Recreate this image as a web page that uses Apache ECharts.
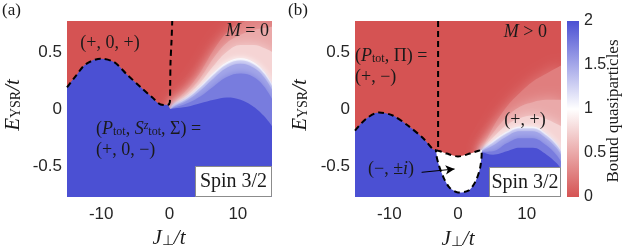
<!DOCTYPE html>
<html><head><meta charset="utf-8">
<script src="https://cdn.jsdelivr.net/npm/echarts@6/dist/echarts.min.js"></script>
<style>html,body{margin:0;padding:0;background:#fff}#c{width:623px;height:252px}</style>
</head><body><div id="c"></div>
<script>
// ---------- data ----------
const xRange = [-15, 15];
const yRange = [-0.77, 0.77];
const xTicks = [-10, 0, 10];
const yTicks = [-0.5, 0, 0.5];
const cbRange = [0, 2];

// Panel (a): dashed phase boundary (left hump + notch) and vertical dashed branch
const aBoundary = [[-15,0.19],[-13.7,0.29],[-12.3,0.39],[-10.1,0.44],[-8.1,0.41],[-6.2,0.30],[-4.2,0.19],[-2.5,0.10],[-1.3,0.04],[-0.3,0.035]];
const aVertical = [[-0.3,0.035],[0.05,0.06],[0.1,0.2],[0.15,0.41],[0.3,0.6],[0.4,0.77]];
// Panel (a): contours of the bound-quasiparticle number on the right side
const aC025 = [[0.2,0.0],[0.5,0.045],[2.6,0.17],[4.5,0.32],[6.5,0.52],[8.4,0.67],[10.4,0.75],[12.3,0.8],[15,0.9]];
const aC050 = [[0.2,0.0],[0.5,0.04],[2.6,0.14],[4.5,0.27],[6.5,0.45],[8.4,0.58],[10.4,0.65],[12.3,0.69],[14,0.71],[15,0.72]];
const aC075 = [[0.2,0.0],[0.5,0.035],[2.6,0.12],[4.5,0.23],[6.5,0.38],[8.4,0.5],[10.4,0.56],[12.3,0.56],[14,0.53],[15,0.5]];
const aC100 = [[0.2,0.0],[0.6,0.027],[2.6,0.1],[4.5,0.2],[6.5,0.32],[8.4,0.41],[10.4,0.445],[12.3,0.41],[13.8,0.33],[15,0.22]];
const aC125 = [[0.2,0.0],[0.6,0.022],[2.6,0.09],[4.5,0.185],[6.5,0.3],[8.4,0.39],[10.4,0.425],[12.3,0.39],[13.8,0.31],[15,0.2]];
const aC150 = [[0.2,0.0],[0.6,0.018],[2.6,0.075],[4.5,0.16],[6.5,0.27],[8.4,0.36],[10.4,0.395],[12.3,0.36],[13.8,0.28],[15,0.17]];
const aC175 = [[0.2,0.0],[0.6,0.01],[2.6,0.05],[4.5,0.11],[6.5,0.2],[8.4,0.28],[10.4,0.31],[12.3,0.28],[13.8,0.2],[15,0.09]];
const aC200 = [[0.2,0.0],[0.6,0.005],[2.6,0.02],[4.5,0.05],[6.5,0.08],[8.4,0.1],[10.4,0.08],[12.3,0.02],[13.8,-0.06],[15,-0.15]];

// Panel (b)
const bBoundary = [[-15,-0.19],[-13.4,-0.086],[-11.5,-0.03],[-9.5,-0.057],[-7.3,-0.145],[-5.0,-0.26],[-3.6,-0.355],[-3.2,-0.36]];
const bVertical = [[-2.9,0.77],[-2.9,-0.37]];
const bUnderWhite = [[-2.6,-0.46],[0,-0.5],[2.8,-0.46]];
const bWhiteTop = [[-3.2,-0.36],[-2.6,-0.37],[-1.65,-0.39],[0,-0.415],[1.75,-0.39],[3.0,-0.365],[3.45,-0.36]];
const bWhiteBottom = [[3.45,-0.38],[3.2,-0.52],[2.5,-0.64],[1.5,-0.715],[0,-0.73],[-1.2,-0.69],[-2.1,-0.6],[-2.85,-0.48],[-3.2,-0.37]];
const bC025 = [[3.45,-0.36],[5.1,-0.16],[7.1,0.02],[9,0.14],[10.9,0.24],[12.9,0.31],[15,0.38]];
const bC050 = [[3.45,-0.36],[5.1,-0.21],[7.1,-0.07],[9,0.02],[10.9,0.06],[12.9,0.08],[15,0.08]];
const bC075 = [[3.45,-0.36],[5.1,-0.25],[7.1,-0.14],[9,-0.08],[10.9,-0.06],[12.9,-0.09],[14.3,-0.13],[15,-0.15]];
const bC100 = [[3.45,-0.36],[5.1,-0.28],[7.1,-0.2],[9,-0.155],[10.9,-0.155],[12.9,-0.22],[14.3,-0.3],[15,-0.36]];
const bC125 = [[3.45,-0.365],[5.1,-0.295],[7.1,-0.215],[9,-0.17],[10.9,-0.17],[12.9,-0.235],[14.3,-0.315],[15,-0.375]];
const bC150 = [[3.45,-0.37],[5.1,-0.32],[7.1,-0.24],[9,-0.195],[10.9,-0.195],[12.9,-0.26],[14.3,-0.34],[15,-0.4]];
const bC175 = [[3.45,-0.375],[5.1,-0.37],[7.1,-0.3],[9,-0.255],[10.9,-0.255],[12.9,-0.32],[14.3,-0.4],[15,-0.46]];
const bC200 = [[3.45,-0.38],[5.1,-0.4],[7.1,-0.37],[9,-0.34],[10.9,-0.34],[12.9,-0.4],[14.3,-0.47],[15,-0.52]];
const bArrow = [[-5.3,-0.554],[-0.5,-0.525]];

const contourLevels = [0.25, 0.5, 0.75, 1.0, 1.25, 1.5, 1.75];
const aContours = [aC025, aC050, aC075, aC100, aC125, aC150, aC175];
const bContours = [bC025, bC050, bC075, bC100, bC125, bC150, bC175];

// ---------- style ----------
const RED = [213, 83, 83], WHITE = [255, 255, 255], BLUE = [75, 80, 211];
function mix(a, b, t) { return 'rgb(' + a.map((v, i) => Math.round(v + (b[i] - v) * t)).join(',') + ')'; }
function cmap(v) { return v <= 1 ? mix(RED, WHITE, v) : mix(WHITE, BLUE, v - 1); }
const levelBlur = [14, 14, 12, 6, 3, 4, 8];
const SERIF = 'Liberation Serif';
const SANS = 'Liberation Sans';
const TXT = '#1a1a1a';

const grids = [
  { left: 67, top: 21, width: 205, height: 176, show: true, backgroundColor: cmap(0), borderWidth: 0 },
  { left: 355, top: 21, width: 206, height: 176, show: true, backgroundColor: cmap(0), borderWidth: 0 },
  { left: 567, top: 21, width: 12, height: 176, show: false }
];
function xAx(g) {
  return { gridIndex: g, type: 'value', min: xRange[0], max: xRange[1],
    axisLine: { show: false }, axisTick: { show: false }, splitLine: { show: false },
    axisLabel: { customValues: xTicks, fontFamily: SANS, fontSize: 17, color: '#262626', margin: 9 } };
}
function yAx(g) {
  return { gridIndex: g, type: 'value', min: yRange[0], max: yRange[1],
    axisLine: { show: false }, axisTick: { show: false }, splitLine: { show: false },
    axisLabel: { customValues: yTicks, fontFamily: SANS, fontSize: 17, color: '#262626', margin: 5,
      formatter: v => String(v) } };
}
function area(g, data, color, blur) {
  return { type: 'line', xAxisIndex: g, yAxisIndex: g, data, smooth: 0.4,
    showSymbol: false, silent: true, lineStyle: { width: 0 },
    areaStyle: { color, opacity: 1, origin: 'start', shadowBlur: blur || 0, shadowColor: color } };
}
function dashed(g, data, smooth) {
  return { type: 'line', xAxisIndex: g, yAxisIndex: g, data, smooth: smooth, showSymbol: false, silent: true,
    lineStyle: { color: '#000', width: 2, type: [6, 4] }, z: 5 };
}

const series = [];
// panel a
aContours.forEach((c, i) => series.push(area(0, c, cmap(contourLevels[i]), levelBlur[i])));
series.push(area(0, aBoundary.concat([[0.2, 0.0]]).concat(aC200.slice(1)), cmap(2), 0));
series.push(dashed(0, aBoundary.concat(aVertical.slice(1)), 0.3));
// panel b
bContours.forEach((c, i) => series.push(area(1, c, cmap(contourLevels[i]), levelBlur[i])));
series.push(area(1, bBoundary.concat(bUnderWhite).concat(bC200), cmap(2), 0));
const whitePoly = bWhiteTop.concat(bWhiteBottom);
series.push({ type: 'custom', xAxisIndex: 1, yAxisIndex: 1, silent: true, z: 4,
  data: [0],
  renderItem: (params, api) => ({ type: 'polygon',
    shape: { points: whitePoly.map(p => api.coord(p)), smooth: 0.3 },
    style: { fill: '#fff', stroke: null } }) });
series.push(dashed(1, bBoundary, 0.3));
series.push(dashed(1, bVertical, false));
series.push(dashed(1, whitePoly.concat([whitePoly[0]]), 0.3));
series.push({ type: 'line', xAxisIndex: 1, yAxisIndex: 1, data: [], silent: true, z: 6,
  markLine: { silent: true, symbol: ['none', 'arrow'], symbolSize: [7, 9], label: { show: false },
    lineStyle: { color: '#000', width: 1, type: 'solid' }, animation: false,
    data: [[{ coord: bArrow[0] }, { coord: bArrow[1] }]] } });
// colorbar
series.push({ type: 'bar', xAxisIndex: 2, yAxisIndex: 2, data: [cbRange[1]], barWidth: '100%', silent: true,
  itemStyle: { color: { type: 'linear', x: 0, y: 0, x2: 0, y2: 1,
    colorStops: [{ offset: 0, color: cmap(2) }, { offset: 0.5, color: cmap(1) }, { offset: 1, color: cmap(0) }] } } });

const rich = {
  r: { fontFamily: SERIF, fontSize: 18, color: TXT },
  i: { fontFamily: SERIF, fontSize: 18, fontStyle: 'italic', color: TXT },
  s: { fontFamily: SERIF, fontSize: 12, color: TXT, verticalAlign: 'bottom', lineHeight: 9 },
  p: { fontFamily: SERIF, fontSize: 12, fontStyle: 'italic', color: TXT, verticalAlign: 'top', lineHeight: 9 },
  R: { fontFamily: SERIF, fontSize: 20, color: TXT },
  I: { fontFamily: SERIF, fontSize: 21, fontStyle: 'italic', color: TXT },
  S: { fontFamily: SERIF, fontSize: 14, color: TXT, verticalAlign: 'bottom', lineHeight: 10 },
  c: { fontFamily: SERIF, fontSize: 17, color: TXT }
};
function txt(x, y, text, align, extra) {
  return Object.assign({ type: 'text', x, y, z: 100, style: { text, rich, align: align || 'left', verticalAlign: 'middle', fill: TXT, fontFamily: SERIF, fontSize: 18 } }, extra || {});
}
const graphic = [
  txt(2, 11, '{c|(a)}'),
  txt(288, 11, '{c|(b)}'),
  txt(13, 105, '{I|E}{S|YSR}{I|/t}', 'center', { rotation: Math.PI / 2 }),
  txt(300, 105, '{I|E}{S|YSR}{I|/t}', 'center', { rotation: Math.PI / 2 }),
  txt(169, 238, '{I|J}{S|⊥}{I|/t}', 'center'),
  txt(458, 239, '{I|J}{S|⊥}{I|/t}', 'center'),
  txt(614, 111, '{c|Bound quasiparticles}', 'center', { rotation: Math.PI / 2 }),
  txt(110, 43, '{r|(+, 0, +)}', 'center'),
  txt(269, 31, '{i|M}{r| = 0}', 'right'),
  txt(96, 129, '{r|(}{i|P}{s|tot}{r|, }{i|S}{p|z}{s|tot}{r|, Σ) =}'),
  txt(96, 150, '{r|(+, 0, −)}'),
  txt(547, 32, '{i|M}{r| > 0}', 'right'),
  txt(355, 56, '{r|(}{i|P}{s|tot}{r|, Π) =}'),
  txt(355, 77, '{r|(+, −)}'),
  txt(525, 120, '{r|(+, +)}', 'center'),
  txt(368, 169, '{r|(−, ±}{i|i}{r|)}'),
  { type: 'rect', z: 90, shape: { x: 195.5, y: 166.5, width: 76, height: 30 }, style: { fill: '#fff', stroke: '#8c8c8c', lineWidth: 1 } },
  txt(233.5, 182, '{R|Spin 3/2}', 'center'),
  { type: 'rect', z: 90, shape: { x: 489.5, y: 167.5, width: 71, height: 29 }, style: { fill: '#fff', stroke: '#8c8c8c', lineWidth: 1 } },
  txt(525, 182.5, '{R|Spin 3/2}', 'center')
];

const chart = echarts.init(document.getElementById('c'), null, { renderer: 'canvas' });
chart.setOption({
  animation: false,
  grid: grids,
  xAxis: [xAx(0), xAx(1), { gridIndex: 2, type: 'category', data: [''], show: false }],
  yAxis: [yAx(0), yAx(1), { gridIndex: 2, type: 'value', min: cbRange[0], max: cbRange[1], interval: 0.5, position: 'right',
    axisLine: { show: false }, splitLine: { show: false },
    axisTick: { show: true, inside: true, length: 3, lineStyle: { color: '#fff' } },
    axisLabel: { fontFamily: SANS, fontSize: 16, color: '#262626', margin: 5 } }],
  series,
  graphic
});
</script></body></html>
